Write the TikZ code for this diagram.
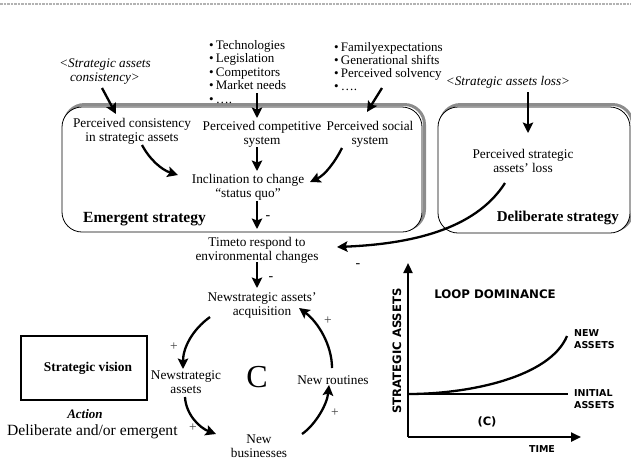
\documentclass[tikz,border=0pt]{standalone}
\usepackage{fontspec}
\setmainfont{Liberation Serif}
\newfontfamily\gsans{DejaVu Sans}
\usetikzlibrary{arrows.meta}
\begin{document}
\begin{tikzpicture}[x=1pt,y=-1pt,
  txt/.style={font=\fontsize{13.3}{14}\selectfont, inner sep=0pt, align=center},
  lst/.style={font=\fontsize{13}{13.5}\selectfont, inner sep=0pt, align=left, anchor=west},
  itl/.style={font=\fontsize{13.2}{14}\selectfont\itshape, inner sep=0pt, align=center},
  blab/.style={font=\fontsize{15.5}{16}\selectfont\bfseries, inner sep=0pt},
  sgn/.style={font=\fontsize{13.5}{13.5}\selectfont, inner sep=0pt, text=black!75},
  msgn/.style={font=\fontsize{14}{14}\selectfont, inner sep=0pt, text=black},
  gtxt/.style={font=\gsans\bfseries\fontsize{9.5}{11.5}\selectfont, inner sep=0pt, align=left, anchor=west},
  arr/.style={-{Stealth[length=10.5pt,width=10.5pt,inset=2pt]}, line width=2.3pt},
  axis/.style={-{Triangle[length=10pt,width=9pt]}, line width=2.3pt},
  shadowbox/.style={draw=black!45, line width=3pt, rounded corners=20pt},
  sbox/.style={draw=black, line width=0.8pt, fill=white, rounded corners=20pt}]
\useasboundingbox (0,0) rectangle (631,459);
% top dashed rule
\draw[black!30, line width=2.5pt, dash pattern=on 2.5pt off 1pt] (0,4) -- (631,4);

% boxes
\draw[shadowbox] (64.5,104.5) rectangle (424.5,229.5);
\draw[sbox] (62,107) rectangle (422,232);
\draw[shadowbox] (440.5,104.5) rectangle (632.5,230.5);
\draw[sbox] (438,107) rectangle (630,233);

% top texts
\node[itl] (cons) at (105,72) {\textless Strategic assets\\consistency\textgreater};
\node[lst] (list1) at (209,72) {•\,Technologies\\•\,Legislation\\•\,Competitors\\•\,Market needs\\•\,….};
\node[lst, font=\fontsize{13}{13}\selectfont] (list2) at (334,67) {•\,Familyexpectations\\•\,Generational shifts\\•\,Perceived solvency\\•\,….};
\node[itl] (loss) at (508,82) {\textless Strategic assets loss\textgreater};

% emergent box contents
\node[txt] (pcons) at (132,131) {Perceived consistency\\in strategic assets};
\node[txt] (pcomp) at (262,134) {Perceived competitive\\system};
\node[txt] (psoc) at (370,134) {Perceived social\\system};
\node[txt] (incl) at (248,187) {Inclination to change\\“status quo”};
\node[blab, anchor=west] (emlab) at (83,219) {Emergent strategy};
\node[msgn] (m1) at (268,218) {-};

% deliberate box contents
\node[txt] (ploss) at (523,161) {Perceived strategic\\assets’ loss};
\node[blab, anchor=east, font=\fontsize{15}{16}\selectfont\bfseries] (delab) at (619,218) {Deliberate strategy};

% time node
\node[txt] (time) at (257,250) {Timeto respond to\\environmental changes};
\node[msgn] (m2) at (358,266) {-};
\node[msgn] (m3) at (271,279) {-};

% loop
\node[txt] (acq) at (262,305) {Newstrategic assets’\\acquisition};
\node[txt] (nsa) at (186,382) {Newstrategic\\assets};
\node[inner sep=0pt, font=\fontsize{32}{32}\selectfont] (bigC) at (257,377) {C};
\node[txt] (nrout) at (333,380) {New routines};
\node[txt] (nbus) at (259,446) {New\\businesses};
\node[sgn] (p1) at (174,347) {+};
\node[sgn] (p2) at (193,428) {+};
\node[sgn] (p3) at (335,413) {+};
\node[sgn] (p4) at (328,321) {+};

% strategic vision
\node[draw, line width=1.8pt, minimum width=126pt, minimum height=64pt, inner sep=0pt,
      font=\fontsize{13.4}{14}\selectfont\bfseries] (vision) at (84,368) {\hspace*{8pt}Strategic vision};
\node[inner sep=0pt, font=\fontsize{13}{14}\selectfont\bfseries\itshape] (action) at (85,414) {Action};
\node[inner sep=0pt, anchor=west, font=\fontsize{15.6}{16}\selectfont] (delem) at (7,432) {Deliberate and/or emergent};

% arrow coordinates
\coordinate (c1a) at (102,88);  \coordinate (c1b) at (116,114);
\coordinate (c2a) at (257,93);  \coordinate (c2b) at (257,118);
\coordinate (c3a) at (382,88);  \coordinate (c3b) at (367,112);
\coordinate (c4a) at (528,92);  \coordinate (c4b) at (528,133);
\coordinate (c5a) at (142,145); \coordinate (c5b) at (178,175);
\coordinate (c6a) at (257,147); \coordinate (c6b) at (257,171);
\coordinate (c7a) at (342,148); \coordinate (c7b) at (310,182);
\coordinate (c8a) at (257,201); \coordinate (c8b) at (257,229);
\coordinate (c9a) at (505,183); \coordinate (c9b) at (337,247);
\coordinate (c10a) at (257,262); \coordinate (c10b) at (257,288);
\coordinate (l1a) at (210,317); \coordinate (l1b) at (183,369);
\coordinate (l2a) at (185,397); \coordinate (l2b) at (216,434);
\coordinate (l3a) at (302,434); \coordinate (l3b) at (329,385);
\coordinate (l4a) at (332,368); \coordinate (l4b) at (299,308);

\draw[arr] (c1a) -- (c1b);
\draw[arr] (c2a) -- (c2b);
\draw[arr] (c3a) -- (c3b);
\draw[arr] (c4a) -- (c4b);
\draw[arr] (c5a) .. controls (150,160) and (162,170) .. (c5b);
\draw[arr] (c6a) -- (c6b);
\draw[arr] (c7a) .. controls (335,162) and (325,175) .. (c7b);
\draw[arr] (c8a) -- (c8b);
\draw[arr] (c9a) .. controls (475,230) and (410,244) .. (c9b);
\draw[arr] (c10a) -- (c10b);
\draw[arr] (l1a) .. controls (192,330) and (183,348) .. (l1b);
\draw[arr] (l2a) .. controls (186,415) and (200,428) .. (l2b);
\draw[arr] (l3a) .. controls (315,425) and (327,405) .. (l3b);
\draw[arr] (l4a) .. controls (332,345) and (318,322) .. (l4b);

% graph
\coordinate (org) at (408,437);
\coordinate (ytop) at (408,263);
\coordinate (xend) at (581,437);
\coordinate (ia) at (408,394);
\coordinate (ib) at (568,394);
\coordinate (nb) at (567,336);
\draw[axis] (org) -- (ytop);
\draw[axis] (org) -- (xend);
\draw[line width=2.3pt] (ia) -- (ib);
\draw[line width=2.3pt] (ia) .. controls (470,394) and (550,377) .. (nb);
\node[inner sep=0pt, rotate=90, font=\gsans\bfseries\fontsize{11.6}{12}\selectfont] (yl) at (397,351) {STRATEGIC ASSETS};
\node[inner sep=0pt, font=\gsans\bfseries\fontsize{11.8}{12}\selectfont] (ld) at (495,294) {LOOP DOMINANCE};
\node[gtxt] (newa) at (574,339) {NEW\\ASSETS};
\node[gtxt] (inia) at (574,399) {INITIAL\\ASSETS};
\node[inner sep=0pt, font=\gsans\bfseries\fontsize{11.5}{12}\selectfont] (cl) at (487,422) {(C)};
\node[inner sep=0pt, font=\gsans\bfseries\fontsize{9.5}{12}\selectfont] (tl) at (542,449) {TIME};
\end{tikzpicture}
\end{document}
